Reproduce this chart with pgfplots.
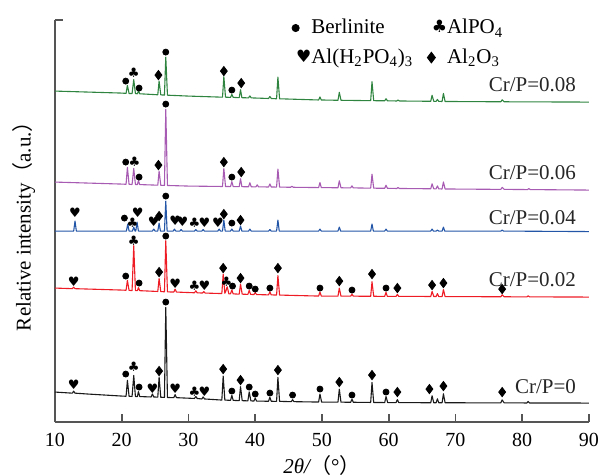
\documentclass[border=0pt]{standalone}
\usepackage{pgfplots}
\pgfplotsset{compat=1.18}
\usepackage{fontspec}
\setmainfont{Liberation Serif}
\newfontfamily\symfont{DejaVu Sans}
\newfontfamily\cjk{Noto Sans CJK SC}

\definecolor{c0}{HTML}{1A1A1A}
\definecolor{c2}{HTML}{EE1C25}
\definecolor{c4}{HTML}{2456A8}
\definecolor{c6}{HTML}{A85BB2}
\definecolor{c8}{HTML}{2F8540}
\definecolor{axgray}{HTML}{555555}

\pgfplotsset{
  xrd/.style={no marks, line width=0.55pt, line join=round},
  mdot/.style={only marks, mark=*, mark size=1.5pt, mark options={fill=black, draw=black}},
  mdia/.style={only marks, mark=diamond*, mark size=2.3pt, mark options={fill=black, draw=black}},
  mclub/.style={only marks, mark=text, text mark={♣}, text mark as node=true,
    text mark style={font=\symfont\fontsize{6.5}{6.5}\selectfont, inner sep=0pt}},
  mheart/.style={only marks, mark=text, text mark={♥}, text mark as node=true,
    text mark style={font=\symfont\fontsize{6.5}{6.5}\selectfont, inner sep=0pt}},
  lgimg/.style={legend image code/.code={\draw[##1] plot coordinates {(0cm,0cm)};}},
}

\begin{document}
\begin{tikzpicture}
\begin{axis}[
  scale only axis, width=267pt, height=201pt,
  xmin=10, xmax=90, ymin=0, ymax=402,
  axis x line=bottom, axis y line=left,
  axis line style={-, draw=axgray, line width=0.8pt},
  xtick={10,20,...,90}, ytick={402}, yticklabels={},
  tick align=inside, major tick length=4pt,
  tick style={draw=axgray, line width=0.8pt},
  xticklabel style={font=\fontsize{10}{12}\selectfont, yshift=-2pt},
  /pgf/number format/assume math mode=true,
  xlabel={{\itshape 2θ/}{\cjk（}°{\cjk）}},
  ylabel={Relative intensity{\cjk（}a.u.{\cjk）}},
  label style={font=\fontsize{10.5}{12}\selectfont},
  xlabel style={at={(axis description cs:0.5,-0.107)}, anchor=center},
  ylabel style={at={(axis description cs:-0.058,0.5)}, anchor=center},
  legend columns=2, legend cell align=left,
  legend style={at={(axis description cs:0.432,1.023)}, anchor=north west,
    draw=none, fill=none, font=\fontsize{10.5}{12}\selectfont, row sep=2pt,
    /tikz/every odd column/.append style={column sep=-2pt},
    /tikz/every even column/.append style={column sep=5pt}},
]
% legend
\addlegendimage{draw=none, mark=*, mark size=1.8pt, mark options={fill=black, draw=black}, lgimg}
\addlegendentry{Berlinite}
\addlegendimage{draw=none, mark=text, text mark={♣}, text mark as node=true,
  text mark style={font=\symfont\fontsize{8.5}{8.5}\selectfont, inner sep=0pt}, lgimg}
\addlegendentry{AlPO\textsubscript{4}}
\addlegendimage{draw=none, mark=text, text mark={♥}, text mark as node=true,
  text mark style={font=\symfont\fontsize{8.5}{8.5}\selectfont, inner sep=0pt}, lgimg}
\addlegendentry{Al(H\textsubscript{2}PO\textsubscript{4})\textsubscript{3}}
\addlegendimage{draw=none, mark=diamond*, mark size=2.7pt, mark options={fill=black, draw=black}, lgimg}
\addlegendentry{Al\textsubscript{2}O\textsubscript{3}}

% Cr/P=0
\addplot[xrd, c0, forget plot] coordinates {
(10,30) (12.6,28.9) (12.8,30.9) (13.0,28.9) (15,28) (20,26) (20.65,25.8) (20.85,41.8) (21.1,25.7)
(21.55,25.6) (21.8,46.6) (22.05,25.6) (22.35,25.5) (22.5,30.5) (22.7,25.5) (24.4,25.1) (24.6,28.1)
(24.8,25.1) (25.4,24.9) (25.6,44.9) (25.85,24.8) (26.4,24.7) (26.6,114.7) (26.85,24.6) (27.8,24.4)
(28.0,27.4) (28.2,24.4) (30.9,23.6) (31.1,25.6) (31.3,23.6) (32.0,23.1) (32.2,25.1) (32.4,23.1)
(35.0,22.0) (35.2,46) (35.45,22.0) (36.3,21.7) (36.5,26.7) (36.7,21.7) (37.6,21.4) (37.8,35.4)
(38.05,21.4) (38.9,21.2) (39.1,30.2) (39.35,21.2) (39.8,21.0) (40.0,24) (40.2,21) (42.0,20.8)
(42.2,24.8) (42.4,20.8) (43.2,20.7) (43.4,44.7) (43.65,20.7) (45.4,20.4) (45.6,22.4) (45.8,20.4)
(49.5,20.0) (49.7,28) (49.95,20.0) (52.4,19.9) (52.6,32.9) (52.85,19.9) (54.3,19.8) (54.5,22.8)
(54.7,19.8) (57.3,19.6) (57.5,39.6) (57.75,19.6) (59.4,19.5) (59.6,25.5) (59.85,19.5) (61.1,19.5)
(61.3,22.5) (61.5,19.5) (66.3,19.3) (66.5,26.3) (66.75,19.3) (67.1,19.3) (67.3,23.3) (67.5,19.3)
(68.0,19.3) (68.2,28.3) (68.45,19.3) (76.8,19.2) (77.0,22.2) (77.3,19.2) (80.7,19.1) (80.9,20.6)
(81.1,19.1) (90,19)};

% Cr/P=0.02
\addplot[xrd, c2, forget plot] coordinates {
(10,134) (12.6,133.4) (12.8,134.9) (13.0,133.4) (20,132) (20.65,131.8) (20.85,141.8) (21.1,131.7)
(21.55,131.5) (21.8,176.5) (22.05,131.5) (22.35,131.4) (22.5,134.4) (22.7,131.4) (25.4,130.6)
(25.6,143.6) (25.85,130.5) (26.4,130.3) (26.6,181.3) (26.85,130.2) (27.8,130.0) (28.0,133.0)
(28.2,130.0) (30.9,129.3) (31.1,131.3) (31.3,129.3) (32.1,129.0) (32.3,130.5) (32.5,129.0)
(35.0,128.5) (35.2,148.0) (35.45,128.8) (35.6,131) (35.8,135.3) (36.05,128.3) (36.3,128.2)
(36.5,132.2) (36.7,128.2) (37.6,127.9) (37.8,137.9) (38.05,127.9) (38.9,127.7) (39.1,131.7)
(39.3,127.7) (39.8,127.5) (40.0,129.5) (40.2,127.5) (42.0,127.2) (42.2,130.2) (42.4,127.2)
(43.2,127.0) (43.4,146.5) (43.65,127.0) (49.5,126.0) (49.7,130.0) (49.9,126.0) (52.4,125.9)
(52.6,133.9) (52.85,125.9) (54.3,125.9) (54.5,127.9) (54.7,125.9) (57.3,125.8) (57.5,140.3)
(57.75,125.8) (59.4,125.7) (59.6,129.7) (59.8,125.7) (61.1,125.7) (61.3,127.7) (61.5,125.7)
(66.3,125.6) (66.5,130.6) (66.75,125.6) (67.1,125.5) (67.3,128.5) (67.5,125.5) (68.0,125.5)
(68.2,132.5) (68.45,125.5) (76.8,125.3) (77.0,127.3) (77.3,125.3) (80.7,125.2) (80.9,126.2)
(81.1,125.2) (90,125)};

% Cr/P=0.04
\addplot[xrd, c4, forget plot] coordinates {
(10,191) (12.8,191) (13.0,201) (13.2,191) (20.7,191) (20.9,198) (21.1,191) (21.6,191) (21.8,195)
(22.0,191) (22.1,191) (22.3,200) (22.5,191) (24.6,191) (24.8,193) (25.0,191) (25.4,191) (25.6,199)
(25.8,191) (26.4,191) (26.6,221) (26.8,191) (27.7,191) (27.9,193) (28.1,191) (28.7,191) (28.9,192.5)
(29.1,191) (30.9,191) (31.1,192.5) (31.3,191) (32.0,191) (32.2,192.5) (32.4,191) (34.4,191)
(34.6,193) (34.8,191) (35.1,191) (35.3,202) (35.5,191) (36.3,191) (36.5,193) (36.7,191) (37.6,191)
(37.8,196) (38.0,191) (39.0,191) (39.2,193) (39.4,191) (42.0,191) (42.2,192.5) (42.4,191)
(43.2,191) (43.4,202) (43.6,191) (49.5,191) (49.7,193) (49.9,191) (52.4,191) (52.6,195) (52.8,191)
(57.3,191) (57.5,198) (57.7,191) (59.4,191) (59.6,193) (59.8,191) (66.3,191) (66.5,193) (66.7,191)
(67.1,191) (67.3,192) (67.5,191) (68.0,191) (68.2,195) (68.4,191) (76.8,191) (77.0,192) (77.2,191)
(90,190.5)};

% Cr/P=0.06
\addplot[xrd, c6, forget plot] coordinates {
(10,240) (20,238) (20.65,237.8) (20.85,254.8) (21.1,237.7) (21.55,237.6) (21.8,253.6) (22.05,237.6)
(22.35,237.5) (22.5,241.5) (22.7,237.5) (25.4,236.9) (25.6,250.9) (25.85,236.8) (26.4,236.7)
(26.6,312.7) (26.85,236.6) (30,236) (35.1,235.6) (35.3,253.6) (35.55,235.6) (36.3,235.5)
(36.5,240.5) (36.7,235.5) (37.6,235.4) (37.8,243.4) (38.0,235.4) (39.0,235.3) (39.2,239.3)
(39.4,235.3) (40.1,235.2) (40.3,237.2) (40.5,235.2) (42.0,235.1) (42.2,238.1) (42.4,235.1)
(43.2,235.0) (43.4,253.0) (43.65,235.0) (45.3,234.8) (45.5,235.8) (45.7,234.8) (49.5,234.5)
(49.7,239.5) (49.9,234.5) (52.4,234.3) (52.6,241.3) (52.85,234.3) (54.3,234.2) (54.5,236.2)
(54.7,234.2) (57.3,233.9) (57.5,247.9) (57.75,233.9) (59.4,233.8) (59.6,236.8) (59.8,233.8)
(61.2,233.6) (61.4,234.6) (61.6,233.6) (66.3,233.3) (66.5,238.3) (66.75,233.3) (67.1,233.2)
(67.3,236.2) (67.5,233.2) (68.0,233.1) (68.2,240.1) (68.45,233.1) (76.8,232.7) (77.0,234.7)
(77.3,232.7) (80.8,232.5) (81.0,233.5) (81.2,232.5) (90,232)};

% Cr/P=0.08
\addplot[xrd, c8, forget plot] coordinates {
(10,331) (20,329) (20.65,328.7) (20.85,336.7) (21.1,328.6) (21.55,328.5) (21.8,342.5) (22.05,328.5)
(22.35,328.3) (22.5,331.3) (22.7,328.3) (25.4,327.3) (25.6,341.0) (25.85,327.2) (26.4,327.0)
(26.6,365.0) (26.85,326.9) (30,326) (35.1,324.9) (35.3,345.4) (35.55,324.9) (36.3,324.7)
(36.5,327.7) (36.7,324.7) (37.6,324.4) (37.8,332.4) (38.0,324.4) (39.0,324.2) (39.2,326.2)
(39.4,324.2) (42.0,323.6) (42.2,325.6) (42.4,323.6) (43.2,323.3) (43.4,345.0) (43.65,323.3)
(49.5,322.1) (49.7,325.1) (49.9,322.1) (52.4,321.8) (52.6,329.8) (52.85,321.8) (57.3,321.4)
(57.5,340.4) (57.75,321.4) (59.4,321.3) (59.6,323.3) (59.8,321.3) (61.2,321.1) (61.4,322.1)
(61.6,321.1) (66.3,320.8) (66.5,326.8) (66.75,320.8) (67.1,320.7) (67.3,322.7) (67.5,320.7)
(68.0,320.6) (68.2,328.6) (68.45,320.6) (76.8,320.3) (77.0,322.3) (77.3,320.3) (90,320)};

% phase markers: Berlinite
\addplot[mdot, forget plot] coordinates {
(20.6,48) (22.6,35) (26.6,120) (36.5,31) (39.1,35) (40.0,28) (42.2,29) (45.6,27) (49.7,33) (54.5,27) (59.6,30)
(20.6,146) (22.6,139) (26.6,186) (36.6,136) (39.1,136) (40.0,133) (42.2,134) (49.7,134) (54.5,132) (59.6,134)
(20.4,204) (26.6,226) (36.5,199)
(20.6,260) (22.6,245) (26.6,318) (36.5,245)
(20.6,341) (22.6,334) (26.6,370) (36.5,332)};
% AlPO4
\addplot[mclub, forget plot] coordinates {
(21.8,55) (30.9,30)
(21.8,181) (30.9,136) (35.7,140)
(21.6,199) (30.9,199)
(21.9,260)
(21.8,349)};
% Al(H2PO4)3
\addplot[mheart, forget plot] coordinates {
(12.8,37) (24.6,33) (28.0,33) (32.4,30)
(12.8,140) (28.0,138) (32.4,136)
(13.0,209) (22.4,209) (24.8,200) (28.0,201) (29.1,200) (32.4,199) (34.4,199)};
% Al2O3
\addplot[mdia, forget plot] coordinates {
(25.6,51) (35.2,53) (37.8,42) (43.4,52) (52.6,40) (57.5,47) (61.3,30) (66.1,33) (68.2,36) (77.0,30)
(25.6,150) (35.2,154) (37.8,144) (43.4,154) (52.6,141) (57.5,148) (61.3,134) (66.5,137) (68.2,139) (77.0,133)
(25.6,206) (35.3,208) (37.8,202)
(25.5,257) (35.3,260) (37.9,250)
(25.5,347) (35.3,351) (37.9,339)};

\node[anchor=east, font=\fontsize{10.5}{12}\selectfont, text=black!85] at (axis cs:89.1,337) {Cr/P=0.08};
\node[anchor=east, font=\fontsize{10.5}{12}\selectfont, text=black!85] at (axis cs:89.1,249) {Cr/P=0.06};
\node[anchor=east, font=\fontsize{10.5}{12}\selectfont, text=black!85] at (axis cs:89.1,204) {Cr/P=0.04};
\node[anchor=east, font=\fontsize{10.5}{12}\selectfont, text=black!85] at (axis cs:89.1,142) {Cr/P=0.02};
\node[anchor=east, font=\fontsize{10.5}{12}\selectfont, text=black!85] at (axis cs:89.1,35) {Cr/P=0};

\coordinate (bbsw) at (axis description cs:-0.103,-0.134);
\coordinate (bbne) at (axis description cs:1.032,1.05);
\end{axis}
\pgfresetboundingbox
\path[use as bounding box] (bbsw) rectangle (bbne);
\end{tikzpicture}
\end{document}
